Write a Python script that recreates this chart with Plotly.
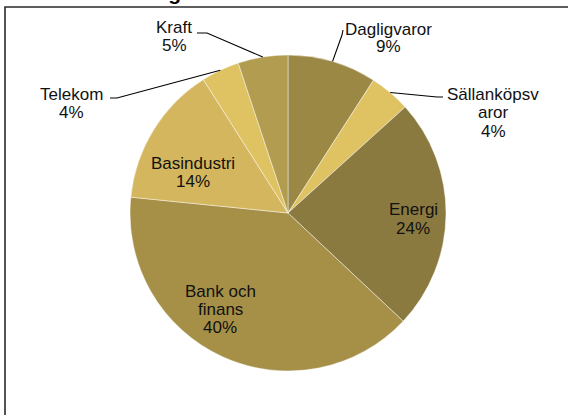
import math
import plotly.graph_objects as go

# ---- data ----
title = "Sektorfördelning"
sectors = ["Dagligvaror", "Sällanköpsvaror", "Energi", "Bank och finans",
           "Basindustri", "Telekom", "Kraft"]
weights = [9.1, 4.2, 23.7, 39.6, 14.4, 3.9, 5.1]
label_lines = [["Dagligvaror"], ["Sällanköpsv", "aror"], ["Energi"],
               ["Bank och", "finans"], ["Basindustri"], ["Telekom"], ["Kraft"]]
colors = ["#9C8845", "#DFC262", "#8B7A3F", "#A69048", "#D4B65E", "#DFC262", "#B29C50"]

# ---- layout constants (pixels) ----
W, H = 568, 415
CX, CY, R = 288, 213, 158
FONT = "Liberation Sans, Arial, sans-serif"
FS = 17
LINE_H = 18
label_pos = [(388, 38), (493, 113), (413, 219), (220, 309), (193, 172), (71, 104), (174, 36)]
leader_start = {0: [(343, 30), (342, 35)], 1: [(443, 97), (437, 97)],
                5: [(110, 98), (117, 98)], 6: [(197, 33), (207, 33)]}


def px(x):
    return x / W


def py(y):
    return 1 - y / H


fig = go.Figure(go.Pie(
    labels=sectors, values=weights, sort=False, direction="clockwise", rotation=0,
    marker=dict(colors=colors, line=dict(color="rgba(255,255,255,0.55)", width=0.8)),
    textinfo="none", hoverinfo="label+percent", showlegend=False,
    domain=dict(x=[px(CX - R), px(CX + R)], y=[py(CY + R), py(CY - R)]),
))

total = sum(weights)
annotations = []
shapes = []
cum = 0.0
for i, (name, v) in enumerate(zip(sectors, weights)):
    mid = (cum + v / 2) / total
    cum += v
    lines = label_lines[i] + [f"{v / total:.0%}"]
    cx, cy = label_pos[i]
    n = len(lines)
    for k, t in enumerate(lines):
        ly = cy + (k - (n - 1) / 2) * LINE_H
        annotations.append(dict(
            x=px(cx), y=py(ly), xref="paper", yref="paper", text=t, showarrow=False,
            xanchor="center", yanchor="middle", font=dict(family=FONT, size=FS, color="#111111"),
        ))
    if i in leader_start:
        ang = 2 * math.pi * mid
        ex = CX + R * math.sin(ang)
        ey = CY - R * math.cos(ang)
        pts = leader_start[i] + [(ex, ey)]
        path = "M " + " L ".join(f"{px(a):.5f},{py(b):.5f}" for a, b in pts)
        shapes.append(dict(type="path", path=path, xref="paper", yref="paper",
                           line=dict(color="#000000", width=1.1)))

# chart border
shapes.append(dict(type="rect", xref="paper", yref="paper", x0=px(5), x1=px(W + 10),
                   y0=py(H + 10), y1=py(7), line=dict(color="#2a2a2a", width=1.6),
                   fillcolor="rgba(0,0,0,0)"))

annotations.append(dict(
    x=px(11), y=py(6), xref="paper", yref="paper", text=f"<b>{title}</b>", showarrow=False,
    xanchor="left", yanchor="bottom", font=dict(family=FONT, size=21, color="#000000"),
))

fig.update_layout(
    width=W, height=H, margin=dict(l=0, r=0, t=0, b=0),
    paper_bgcolor="white", plot_bgcolor="white",
    annotations=annotations, shapes=shapes,
)

fig.write_html("out.html", config={"displayModeBar": False},
               post_script="document.body.style.margin='0';")
